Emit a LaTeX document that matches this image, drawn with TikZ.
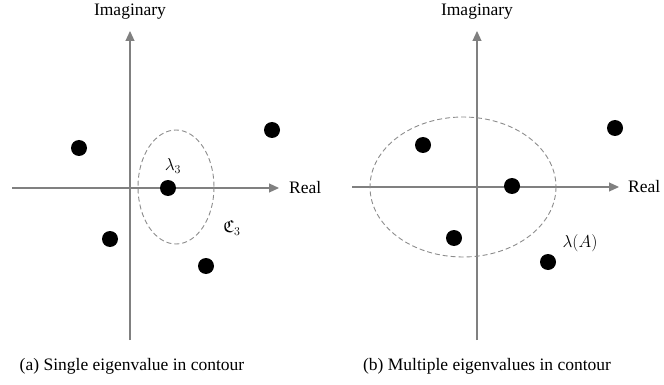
\documentclass[tikz,border=0pt]{standalone}
\usepackage{amsmath,amssymb}
\usepackage{fontspec}
\setmainfont{Liberation Serif}
\usetikzlibrary{arrows.meta,positioning}
\definecolor{axisgray}{RGB}{128,128,128}
\definecolor{contourgray}{RGB}{140,140,140}

\begin{document}
\begin{tikzpicture}[
    x=1pt, y=-1pt,
    eig/.style={circle,fill=black,inner sep=0pt,minimum size=16pt},
    axis/.style={axisgray,line width=1.1pt,-{Triangle[length=10pt,width=9pt]}},
    contour/.style={contourgray,dashed,line width=0.9pt,dash pattern=on 5pt off 3pt},
    lbl/.style={font=\fontsize{17.5}{20}\selectfont,inner sep=1pt},
    >=Stealth
]
\useasboundingbox (0,0) rectangle (664,385);

% (a) single eigenvalue
\coordinate (ya0) at (130,340);
\node[lbl] (ima) at (130,12) {Imaginary};
\coordinate (ya1) at (130,31);
\coordinate (xa0) at (12,188);
\coordinate (xa1) at (279,188);
\node[lbl,anchor=west] (rea) at (288,188) {Real};
\draw[axis] (ya0) -- (ya1);
\draw[axis] (xa0) -- (xa1);
\draw[contour] (176,187) ellipse [x radius=38, y radius=57];
\node[eig] (a1) at (79,148) {};
\node[eig] (a2) at (168,188) {};
\node[eig] (a3) at (272,130) {};
\node[eig] (a4) at (110,239) {};
\node[eig] (a5) at (206,266) {};
\node[lbl] (lam3) at (173,166) {$\lambda_3$};
\node[lbl] (c3) at (232,228) {$\mathfrak{C}_3$};
\node[lbl] (capa) at (132,366) {(a) Single eigenvalue in contour};

% (b) multiple eigenvalues
\coordinate (yb0) at (477,340);
\node[lbl] (imb) at (477,12) {Imaginary};
\coordinate (yb1) at (477,31);
\coordinate (xb0) at (352,187);
\coordinate (xb1) at (619,187);
\node[lbl,anchor=west] (reb) at (627,187) {Real};
\draw[axis] (yb0) -- (yb1);
\draw[axis] (xb0) -- (xb1);
\draw[contour] (463,187) ellipse [x radius=93, y radius=70];
\node[eig] (b1) at (423,145) {};
\node[eig] (b2) at (512,186) {};
\node[eig] (b3) at (615,128) {};
\node[eig] (b4) at (454,238) {};
\node[eig] (b5) at (548,262) {};
\node[lbl] (lamA) at (580,243) {$\lambda(A)$};
\node[lbl] (capb) at (487,366) {(b) Multiple eigenvalues in contour};
\end{tikzpicture}
\end{document}
